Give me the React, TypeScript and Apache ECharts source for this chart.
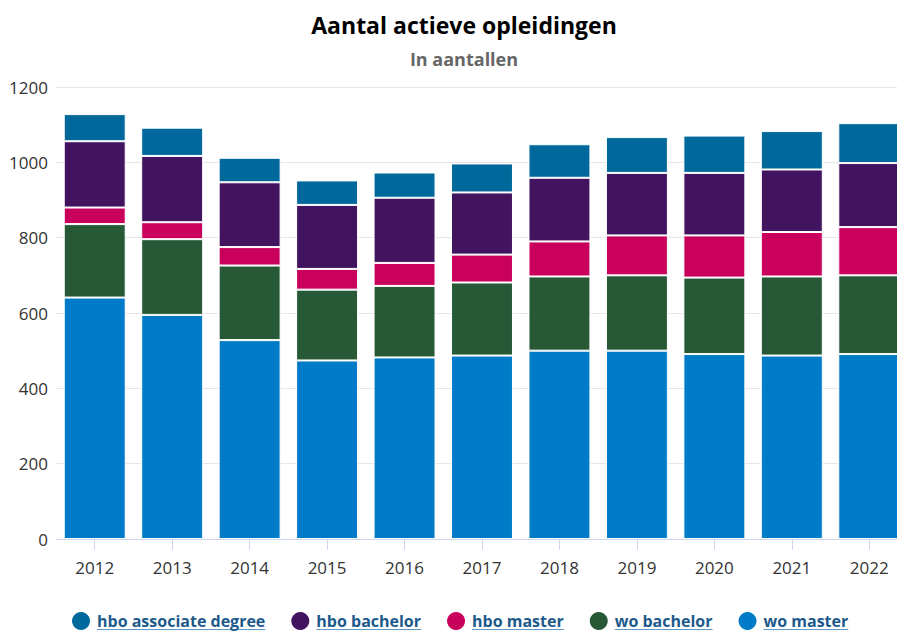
import React, { useEffect, useRef } from "react";
import * as echarts from "echarts";

const years = ["2012", "2013", "2014", "2015", "2016", "2017", "2018", "2019", "2020", "2021", "2022"];
const woMaster = [641, 595, 528, 474, 482, 487, 500, 500, 491, 487, 491];
const woBachelor = [195, 201, 198, 188, 190, 194, 197, 200, 203, 210, 209];
const hboMaster = [44, 45, 49, 55, 61, 74, 93, 106, 112, 118, 128];
const hboBachelor = [176, 176, 172, 170, 173, 165, 169, 166, 166, 166, 170];
const hboAssociate = [72, 75, 65, 65, 67, 77, 89, 95, 99, 102, 106];

const legendOrder = ["hbo associate degree", "hbo bachelor", "hbo master", "wo bachelor", "wo master"];

const FONT = "'Open Sans', Lato, sans-serif";

export default function App() {
  const ref = useRef<HTMLDivElement>(null);
  useEffect(() => {
    document.body.style.margin = "0";
    if (!ref.current) return;
    const chart = echarts.init(ref.current, null, { renderer: "svg" });

    const centerX = 460;
    const legendFontSize = 16;
    const iconW = 18;
    const textPad = 2;
    const itemGap = 26;
    const canvas = document.createElement("canvas");
    const ctx = canvas.getContext("2d")!;
    ctx.font = `bold ${legendFontSize}px ${FONT}`;
    const widths = legendOrder.map((n) => ctx.measureText(n).width);
    const total =
      widths.reduce((s, w) => s + iconW + 5 + textPad + w, 0) + itemGap * (legendOrder.length - 1);
    const legendLeft = Math.round(centerX - total / 2);
    const underlines: any[] = [];
    let acc = legendLeft;
    widths.forEach((w) => {
      const x0 = acc + iconW + 5 + textPad;
      underlines.push({
        type: "line",
        shape: { x1: x0, y1: 629.5, x2: x0 + w, y2: 629.5 },
        style: { stroke: "#5b97c9", lineWidth: 1 },
        silent: true,
      });
      acc += iconW + 5 + textPad + w + itemGap;
    });

    const border = { borderColor: "#ffffff", borderWidth: 1 };
    const mk = (name: string, data: number[], color: string) => ({
      name,
      type: "bar",
      stack: "total",
      data,
      barCategoryGap: "20%",
      itemStyle: { color, ...border },
      emphasis: { disabled: true },
    });

    chart.setOption({
      animation: false,
      textStyle: { fontFamily: FONT },
      title: [
        {
          text: "Aantal actieve opleidingen",
          left: 459,
          top: 8,
          textAlign: "center",
          textStyle: { fontSize: 23, fontWeight: "bold", color: "#000000", fontFamily: FONT },
        },
        {
          text: "In aantallen",
          left: 459,
          top: 45,
          textAlign: "center",
          textStyle: { fontSize: 18, fontWeight: "bold", color: "#666666", fontFamily: FONT },
        },
      ],
      legend: {
        data: legendOrder,
        left: legendLeft,
        top: 612,
        padding: 0,
        icon: "circle",
        itemWidth: iconW,
        itemHeight: 18,
        itemGap,
        itemStyle: { borderWidth: 0 },
        textStyle: {
          fontSize: legendFontSize,
          fontWeight: "bold",
          color: "#1d5a8c",
          fontFamily: FONT,
          padding: [0, 0, 0, textPad],
        },
        selectedMode: false,
      },
      grid: {
        left: 56,
        top: 87,
        width: 852,
        height: 452,
        containLabel: false,
        outerBoundsMode: "none",
      },
      xAxis: {
        type: "category",
        data: years,
        axisLine: { lineStyle: { color: "#ccd6eb" } },
        axisTick: { show: true, alignWithLabel: true, length: 11, lineStyle: { color: "#ccd6eb" } },
        axisLabel: { margin: 20, fontSize: 17, color: "#333333", fontFamily: FONT },
      },
      yAxis: {
        type: "value",
        min: 0,
        max: 1200,
        interval: 200,
        axisLine: { show: false },
        axisTick: { show: false },
        splitLine: { lineStyle: { color: "#e6e6e6" } },
        axisLabel: {
          margin: 8,
          fontSize: 17,
          color: "#333333",
          fontFamily: FONT,
          formatter: (v: number) => String(v),
        },
      },
      graphic: underlines,
      series: [
        mk("wo master", woMaster, "#007bc7"),
        mk("wo bachelor", woBachelor, "#275937"),
        mk("hbo master", hboMaster, "#ca005d"),
        mk("hbo bachelor", hboBachelor, "#42145f"),
        mk("hbo associate degree", hboAssociate, "#01689b"),
      ],
    });
    return () => chart.dispose();
  }, []);
  return <div ref={ref} style={{ width: 897, height: 631 }} />;
}
